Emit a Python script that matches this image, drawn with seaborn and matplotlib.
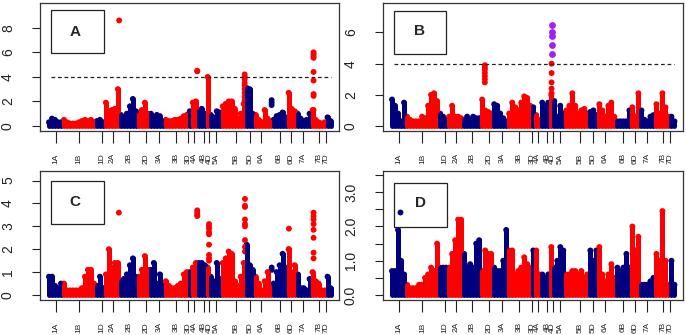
import numpy as np
import pandas as pd
import seaborn as sns
import matplotlib.pyplot as plt
from matplotlib.patches import Rectangle

# chromosome layout (position index along the genome)
chrom_labels = ['1A', '1B', '1D', '2A', '2B', '2D', '3A', '3B', '3D', '4A', '4B',
                '4D', '5A', '5B', '5D', '6A', '6B', '6D', '7A', '7B', '7D']
chrom_ends = [21.5, 56.7, 64, 80.7, 98.3, 110, 125, 148.3, 152.7, 158.5, 166.7,
              170.5, 181.7, 206, 214, 231.7, 246.7, 255, 271.7, 285, 300]
tick_pos = [16, 39.3, 61.7, 72.7, 89.3, 106, 119.3, 136, 148.7, 154.3, 164,
            169.3, 176.7, 196.7, 210, 221.7, 240, 251.7, 263.3, 279.3, 286.7]

marker_pos = [9, 12, 15, 18, 21, 24, 27, 30, 33, 36, 39, 42, 45, 48, 51, 54, 57, 60,
              63, 66, 69, 72, 75, 78, 81, 84, 87, 90, 93, 96, 99, 102, 105, 108, 111,
              114, 117, 120, 123, 126, 129, 132, 135, 138, 141, 144, 147, 150, 153,
              156, 159, 162, 165, 168, 171, 174, 177, 180, 183, 186, 189, 192, 195,
              198, 201, 204, 207, 210, 213, 216, 219, 222, 225, 228, 231, 234, 237,
              240, 243, 246, 249, 252, 255, 258, 261, 264, 267, 270, 273, 276, 279,
              282, 285, 288, 291]

# peak -log10(p) of the markers around each position
a_top = [0.3, 0.6, 0.5, 0.3, 0.3, 0.5, 0.3, 0.2, 0.2, 0.2, 0.3, 0.4, 0.5, 0.4, 0.5, 0.3,
         0.4, 0.5, 0.3, 1.9, 1.2, 1.3, 1.4, 3.0, 0.9, 0.7, 1.0, 1.6, 2.2, 1.2,
         1.0, 1.3, 1.9, 1.0, 1.0, 0.6, 0.9, 0.8, 0.4, 0.5, 0.4, 0.4, 0.5, 0.5, 0.6, 0.8,
         0.9, 1.2, 1.9, 2.0, 1.2, 1.4, 1.0, 4.0, 0.9, 0.7, 1.2, 1.1,
         1.6, 1.8, 2.0, 2.0, 1.4, 0.6, 1.0, 1.8, 3.1, 3.0, 1.0,
         0.9, 0.5, 0.3, 1.3, 0.6, 0.3, 0.5, 0.8, 0.9, 1.1, 0.7, 2.7, 1.4,
         1.2, 1.0, 0.6, 0.4, 0.5, 1.0, 1.3, 0.5, 0.3, 0.2, 0.3, 0.7, 0.4]
b_top = [1.7, 1.3, 0.8, 0.3, 1.5, 0.6, 0.4, 0.3, 0.3, 0.3, 0.6, 0.5, 1.3, 2.0, 2.1, 1.6,
         0.8, 0.6, 0.4, 0.6, 1.3, 0.6, 0.6, 0.5, 0.4, 0.6, 0.4, 0.6, 0.5, 0.5,
         1.7, 1.0, 0.9, 0.8, 1.4, 1.3, 0.8, 0.5, 0.3, 0.8, 1.5, 1.2, 1.0, 1.5, 1.9, 1.8,
         1.3, 1.2, 0.7, 0.4, 1.5, 1.3, 1.5, 2.0, 1.6, 0.6, 1.3, 0.8,
         1.0, 1.3, 2.1, 1.3, 0.8, 1.0, 1.1, 0.8, 0.9, 1.0, 0.7,
         1.4, 1.0, 0.6, 1.3, 1.5, 0.6, 0.3, 0.3, 0.3, 0.3, 1.0, 1.2, 0.6,
         2.1, 1.0, 0.4, 0.3, 0.6, 0.7, 1.4, 0.8, 2.1, 1.2, 0.6, 0.6, 0.3]
c_top = [0.8, 0.8, 0.4, 0.3, 0.5, 0.5, 0.2, 0.2, 0.2, 0.2, 0.2, 0.3, 0.8, 1.1, 1.1, 0.5,
         0.4, 0.8, 0.3, 0.9, 2.0, 1.2, 1.4, 1.4, 0.6, 0.7, 0.9, 1.3, 1.6, 0.8,
         0.8, 1.1, 1.7, 1.1, 1.1, 1.4, 0.5, 0.9, 0.4, 0.6, 0.4, 0.3, 0.3, 0.4, 0.5, 0.9,
         1.0, 1.0, 1.2, 1.4, 1.4, 1.4, 1.3, 1.2, 0.8, 0.6, 1.4, 0.7,
         1.4, 1.6, 1.9, 1.8, 0.6, 0.4, 0.8, 1.4, 2.2, 1.3, 1.1,
         0.8, 0.5, 0.2, 0.6, 1.0, 0.3, 0.5, 1.0, 1.3, 1.8, 1.2, 2.0, 1.0,
         1.3, 0.9, 0.3, 0.3, 0.2, 0.7, 1.0, 0.6, 0.5, 0.2, 0.2, 0.8, 0.3]
d_top = [0.7, 0.7, 1.9, 1.0, 0.6, 0.3, 0.2, 0.2, 0.2, 0.3, 0.3, 0.5, 0.6, 0.8, 0.7, 1.5,
         0.8, 0.8, 0.8, 0.8, 1.2, 1.6, 2.2, 2.2, 1.2, 0.8, 0.9, 0.8, 1.5, 1.6,
         0.7, 1.3, 1.2, 1.2, 0.8, 0.7, 0.7, 1.0, 1.9, 1.3, 1.3, 0.6, 0.7, 0.8, 1.1, 0.9,
         0.8, 1.3, 1.3, 0.6, 0.6, 0.5, 0.6, 1.4, 0.8, 1.0, 1.4, 1.3,
         0.6, 0.6, 0.7, 0.7, 0.6, 0.7, 0.5, 0.6, 1.3, 1.0, 1.3,
         1.4, 0.6, 0.4, 0.6, 0.9, 0.5, 0.8, 0.7, 0.8, 1.2, 0.8, 2.0, 1.3,
         1.7, 0.3, 0.3, 0.3, 0.4, 0.5, 1.2, 1.0, 2.45, 1.0, 0.3, 1.0, 0.3]

# isolated markers above the bulk
a_dot_x = [79.3, 157.5, 157.5, 205, 205, 205, 205, 205, 205, 205, 205, 205,
           232, 232, 232, 274, 274, 274, 274, 274, 274, 274, 274, 274]
a_dot_y = [8.6, 4.5, 4.45, 4.2, 4.0, 3.8, 3.5, 3.3, 3.0, 2.7, 2.4, 2.1,
           2.1, 1.9, 1.7, 6.0, 5.85, 5.7, 5.55, 4.4, 3.7, 2.6, 2.45, 1.3]
b_dot_x = [101.7, 101.7, 101.7, 101.7, 101.7, 101.7, 101.7,
           168.3, 168.3, 168.3, 168.3, 168.3]
b_dot_y = [3.9, 3.75, 3.6, 3.4, 3.2, 3.0, 2.8, 4.0, 3.4, 2.8, 2.4, 2.1]
b_hit_x = [168.3, 168.3, 168.3, 168.3, 168.3]
b_hit_y = [4.6, 5.2, 5.8, 6.0, 6.5]
c_dot_x = [79, 157.5, 157.5, 157.5, 157.5,
           169.3, 169.3, 169.3, 169.3, 169.3, 169.3, 169.3, 169.3, 169.3,
           205.3, 205.3, 205.3, 205.3, 205.3, 205.3, 205.3, 205.3, 205.3,
           232, 232, 249.3, 249.3, 274, 274, 274, 274, 274, 274, 274, 274]
c_dot_y = [3.6, 3.7, 3.6, 3.5, 3.45,
           3.1, 3.0, 2.9, 2.75, 2.65, 2.2, 1.75, 1.6, 1.5,
           4.2, 3.9, 3.85, 3.3, 3.1, 3.0, 2.4, 2.1, 1.9,
           1.2, 1.1, 2.9, 2.0, 3.6, 3.45, 3.3, 3.1, 2.85, 2.5, 1.85, 1.6]
d_dot_x = [17.3]
d_dot_y = [2.43]

threshold = 4

navy = '#00007F'
red = '#FF0000'
purple = '#A020F0'

sns.set_theme(style='white')
plt.rcParams['font.family'] = ['Liberation Sans', 'DejaVu Sans']


def chrom_color(pos):
    idx = np.searchsorted(chrom_ends, np.asarray(pos))
    return np.where(idx % 2 == 0, navy, red)


def manhattan(ax, top, dot_x, dot_y, ylim, yticks, ylabels, letter, box, letter_xy,
              thresh=False, hit_x=None, hit_y=None):
    df = pd.DataFrame({'pos': marker_pos, 'p': top})
    df['col'] = chrom_color(df['pos'])
    lc = ax.vlines(df['pos'], 0, df['p'], colors=df['col'], linewidth=3.6)
    lc.set_capstyle('round')
    # round heads on the columns, like stacked points
    sns.scatterplot(data=df, x='pos', y='p', hue='col',
                    palette={navy: navy, red: red}, s=18, linewidth=0,
                    legend=False, ax=ax)
    dots = pd.DataFrame({'pos': dot_x, 'p': dot_y})
    dots['col'] = chrom_color(dots['pos'])
    sns.scatterplot(data=dots, x='pos', y='p', hue='col',
                    palette={navy: navy, red: red}, s=18, linewidth=0,
                    legend=False, ax=ax)
    if hit_x is not None:
        sns.scatterplot(x=hit_x, y=hit_y, color=purple, s=24, linewidth=0, ax=ax)
    if thresh:
        ax.hlines(threshold, 11, 291, colors='#222222', linewidth=0.9,
                  linestyles=(0, (3, 2.2)))
    ax.set_xlim(0, 299.5)
    ax.set_ylim(*ylim)
    ax.set_xticks(tick_pos)
    ax.set_xticklabels(chrom_labels, rotation=90, fontsize=6)
    ax.set_yticks(yticks)
    ax.set_yticklabels(ylabels, rotation=90, va='center', fontsize=10)
    ax.tick_params(axis='x', length=8.5, width=0.8, pad=7.5, colors='#222222',
                   bottom=True)
    ax.tick_params(axis='y', length=6, width=0.8, pad=12, colors='#222222', left=True)
    ax.set_xlabel('')
    ax.set_ylabel('')
    for sp in ax.spines.values():
        sp.set_color('#333333')
        sp.set_linewidth(0.9)
    ax.add_patch(Rectangle((box[0], box[1]), box[2] - box[0], box[3] - box[1],
                           transform=ax.transAxes, fill=False, ec='#222222',
                           lw=0.9, zorder=5))
    ax.text(letter_xy[0], letter_xy[1], letter, transform=ax.transAxes,
            ha='center', va='center', fontsize=11, fontweight='bold', zorder=6)


fig = plt.figure(figsize=(6.86, 3.35), dpi=100)
ax_a = fig.add_axes([0.0583, 0.609, 0.4359, 0.381])
ax_b = fig.add_axes([0.5583, 0.609, 0.4373, 0.381])
ax_c = fig.add_axes([0.0583, 0.1045, 0.4359, 0.385])
ax_d = fig.add_axes([0.5583, 0.1045, 0.4373, 0.385])

manhattan(ax_a, a_top, a_dot_x, a_dot_y, (-0.41, 9.99), [0, 2, 4, 6, 8],
          ['0', '2', '4', '6', '8'], 'A', (0.037, 0.608, 0.214, 0.948),
          (0.118, 0.778), thresh=True)
manhattan(ax_b, b_top, b_dot_x, b_dot_y, (-0.32, 7.87), [0, 2, 4, 6],
          ['0', '2', '4', '6'], 'B', (0.036, 0.603, 0.209, 0.94),
          (0.122, 0.783), thresh=True, hit_x=b_hit_x, hit_y=b_hit_y)
manhattan(ax_c, c_top, c_dot_x, c_dot_y, (-0.22, 5.42), [0, 1, 2, 3, 4, 5],
          ['0', '1', '2', '3', '4', '5'], 'C', (0.037, 0.587, 0.214, 0.925),
          (0.118, 0.757))
manhattan(ax_d, d_top, d_dot_x, d_dot_y, (-0.146, 3.62),
          [0, 0.5, 1, 1.5, 2, 2.5, 3, 3.5],
          ['0.0', '', '1.0', '', '2.0', '', '3.0', ''], 'D',
          (0.036, 0.568, 0.214, 0.905), (0.125, 0.754))

fig.savefig('out.png', dpi=100)
